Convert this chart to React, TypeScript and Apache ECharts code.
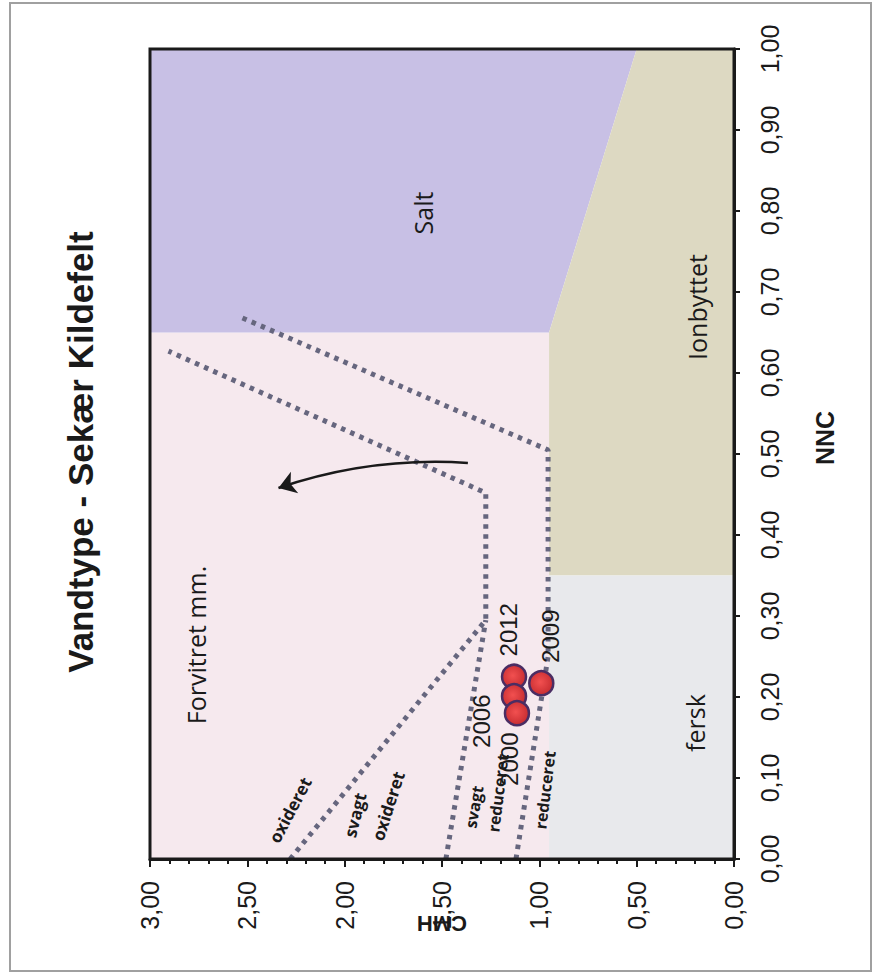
import React, { useEffect, useRef } from "react";
import * as echarts from "echarts";

// ---- texts ----
const TITLE = "Vandtype - Sekær Kildefelt";
const X_NAME = "NNC";
const Y_NAME = "CMH";

// ---- axis ranges ----
const NNC_MIN = 0;
const NNC_MAX = 1;
const NNC_STEP = 0.1;
const CMH_MIN = 0;
const CMH_MAX = 3;
const CMH_STEP = 0.5;

// ---- background regions (vertices as NNC / CMH) ----
const REGION_NAMES = ["Forvitret mm.", "Salt", "Ionbyttet", "fersk"];
const FORVITRET_NNC = [0, 0, 0.65, 0.65];
const FORVITRET_CMH = [0.95, 3, 3, 0.95];
const SALT_NNC = [0.65, 0.65, 1, 1];
const SALT_CMH = [3, 0.95, 0.5, 3];
const IONBYTTET_NNC = [0.35, 0.35, 0.65, 1, 1];
const IONBYTTET_CMH = [0, 0.95, 0.95, 0.5, 0];
const FERSK_NNC = [0, 0, 0.35, 0.35];
const FERSK_CMH = [0, 0.95, 0.95, 0];

// ---- dotted boundary lines ----
const OXIDERET_LINE_NNC = [0, 0.295, 0.452, 0.627];
const OXIDERET_LINE_CMH = [2.28, 1.275, 1.275, 2.905];
const SVAGT_LINE_NNC = [0, 0.295];
const SVAGT_LINE_CMH = [1.48, 1.275];
const REDUCERET_LINE_NNC = [0, 0.25, 0.505, 0.669];
const REDUCERET_LINE_CMH = [1.12, 0.955, 0.955, 2.535];

// ---- arrow ----
const ARROW_NNC = [0.489, 0.458];
const ARROW_CMH = [1.367, 2.34];

// ---- samples ----
const YEARS = ["2012", "2006", "2000", "2009"];
const SAMPLE_NNC = [0.225, 0.201, 0.18, 0.217];
const SAMPLE_CMH = [1.13, 1.13, 1.115, 0.99];

// ---- styles ----
const REGION_COLORS = ["#f6e9ee", "#c8c0e5", "#ddd9c2", "#e8e9ec"];
const YEAR_LABEL_OFFSETS = [
  [-6, -47],
  [-33, 25],
  [-7, 46],
  [9, -47],
];
const SANS = '"Liberation Sans", Arial, sans-serif';
const HUMAN = '"Open Sans", "Noto Sans", sans-serif';

const REGIONS_NNC = [FORVITRET_NNC, SALT_NNC, IONBYTTET_NNC, FERSK_NNC];
const REGIONS_CMH = [FORVITRET_CMH, SALT_CMH, IONBYTTET_CMH, FERSK_CMH];

const fmt = (v: number) => v.toFixed(2).replace(".", ",");
const pairs = (cmh: number[], nnc: number[]) => cmh.map((c, i) => [c, nnc[i]]);

const dotted = {
  color: "#66667e",
  width: 5,
  type: [4.5, 5.5],
  cap: "butt",
};

export default function App() {
  const ref = useRef<HTMLDivElement>(null);

  useEffect(() => {
    document.body.style.margin = "0";
    const chart = echarts.init(ref.current!, null, { renderer: "svg" });

    const option: any = {
      animation: false,
      backgroundColor: "#ffffff",
      grid: { left: 150, right: 145, top: 49, bottom: 121, containLabel: false },
      xAxis: {
        type: "value",
        min: CMH_MIN,
        max: CMH_MAX,
        interval: CMH_STEP,
        inverse: true,
        position: "bottom",
        name: Y_NAME,
        nameLocation: "middle",
        nameRotate: 180,
        nameGap: 50,
        nameMoveOverlap: false,
        nameTextStyle: {
          fontFamily: SANS,
          fontWeight: "bold",
          fontSize: 22,
          color: "#1a1a1a",
          backgroundColor: "#ffffff",
          padding: [3, 4, 3, 4],
        },
        axisLine: { show: true, onZero: false, lineStyle: { color: "#1a1a1a", width: 3 } },
        axisTick: { show: true, inside: false, length: 8, lineStyle: { color: "#1a1a1a", width: 2 } },
        minorTick: { show: true, splitNumber: 5, length: 5, lineStyle: { color: "#1a1a1a", width: 2 } },
        splitLine: { show: false },
        axisLabel: {
          rotate: 90,
          margin: 22,
          formatter: fmt,
          fontFamily: SANS,
          fontSize: 25,
          color: "#1a1a1a",
          showMinLabel: true,
          showMaxLabel: true,
        },
      },
      yAxis: {
        type: "value",
        min: NNC_MIN,
        max: NNC_MAX,
        interval: NNC_STEP,
        position: "right",
        name: X_NAME,
        nameLocation: "middle",
        nameRotate: 90,
        nameGap: 78,
        nameMoveOverlap: false,
        nameTextStyle: {
          fontFamily: SANS,
          fontWeight: "bold",
          fontSize: 25,
          color: "#1a1a1a",
          padding: [0, 0, 0, 32],
        },
        axisLine: { show: true, onZero: false, lineStyle: { color: "#1a1a1a", width: 3 } },
        axisTick: { show: true, inside: false, length: 6, lineStyle: { color: "#1a1a1a", width: 2 } },
        splitLine: { show: false },
        axisLabel: {
          rotate: 90,
          margin: 23,
          formatter: fmt,
          fontFamily: SANS,
          fontSize: 25,
          color: "#1a1a1a",
          showMinLabel: true,
          showMaxLabel: true,
        },
      },
      series: [
        {
          type: "custom",
          name: "regions",
          coordinateSystem: "cartesian2d",
          silent: true,
          clip: true,
          z: 1,
          data: REGION_NAMES.map((_, i) => [REGIONS_CMH[i][0], REGIONS_NNC[i][0]]),
          renderItem: (params: any, api: any) => {
            const i = params.dataIndex;
            const pts = REGIONS_NNC[i].map((n, k) => api.coord([REGIONS_CMH[i][k], n]));
            return {
              type: "polygon",
              shape: { points: pts },
              style: { fill: REGION_COLORS[i], stroke: "none" },
            };
          },
        },
        {
          type: "line",
          name: "oxideret",
          data: pairs(OXIDERET_LINE_CMH, OXIDERET_LINE_NNC),
          symbol: "none",
          silent: true,
          z: 3,
          lineStyle: dotted,
        },
        {
          type: "line",
          name: "svagt",
          data: pairs(SVAGT_LINE_CMH, SVAGT_LINE_NNC),
          symbol: "none",
          silent: true,
          z: 3,
          lineStyle: dotted,
        },
        {
          type: "line",
          name: "reduceret",
          data: pairs(REDUCERET_LINE_CMH, REDUCERET_LINE_NNC),
          symbol: "none",
          silent: true,
          z: 3,
          lineStyle: dotted,
        },
        {
          type: "lines",
          name: "arrow",
          coordinateSystem: "cartesian2d",
          silent: true,
          z: 4,
          symbol: ["none", "arrow"],
          symbolSize: 17,
          lineStyle: { color: "#1a1a1a", width: 2.5, curveness: -0.1, opacity: 1 },
          data: [
            {
              coords: [
                [ARROW_CMH[0], ARROW_NNC[0]],
                [ARROW_CMH[1], ARROW_NNC[1]],
              ],
            },
          ],
        },
        {
          type: "scatter",
          name: "prøver",
          z: 5,
          symbolSize: 24,
          itemStyle: {
            color: new echarts.graphic.RadialGradient(0.45, 0.45, 0.6, [
              { offset: 0, color: "#f25050" },
              { offset: 1, color: "#c42a2e" },
            ]),
            borderColor: "#4b2d63",
            borderWidth: 2.5,
            opacity: 1,
          },
          data: YEARS.map((y, i) => ({ name: y, value: [SAMPLE_CMH[i], SAMPLE_NNC[i]] })),
        },
      ],
    };

    chart.setOption(option);

    const rot = (deg: number) => (deg * Math.PI) / 180;
    const txt = (
      text: string,
      x: number,
      y: number,
      deg: number,
      size: number,
      family: string,
      weight: string = "normal",
      color: string = "#1a1a1a"
    ) => ({
      type: "text",
      x,
      y,
      rotation: rot(deg),
      z: 60,
      silent: true,
      style: {
        text,
        fontSize: size,
        fontFamily: family,
        fontWeight: weight,
        fill: color,
        align: "center",
        verticalAlign: "middle",
      },
    });

    const yearLabels = YEARS.map((y, i) => {
      const p = chart.convertToPixel({ gridIndex: 0 }, [SAMPLE_CMH[i], SAMPLE_NNC[i]]) as number[];
      return txt(y, p[0] + YEAR_LABEL_OFFSETS[i][0], p[1] + YEAR_LABEL_OFFSETS[i][1], 90, 24, SANS);
    });

    const elements: any[] = [
      {
        type: "rect",
        z: 0,
        silent: true,
        shape: { x: 10, y: 3, width: 861, height: 968 },
        style: { fill: "none", stroke: "#a0a0a0", lineWidth: 2 },
      },
      {
        type: "rect",
        z: 55,
        silent: true,
        shape: { x: 150, y: 49, width: 584, height: 810 },
        style: { fill: "none", stroke: "#1a1a1a", lineWidth: 3 },
      },
      txt(TITLE, 80, 452, 90, 35, SANS, "bold"),
      txt(REGION_NAMES[1], 423, 213, 90, 25, HUMAN),
      txt(REGION_NAMES[2], 697, 307, 90, 25, HUMAN),
      txt(REGION_NAMES[3], 695, 723, 90, 25, HUMAN),
      txt(REGION_NAMES[0], 196, 645, 90, 25, HUMAN),
      txt("oxideret", 290, 810, 62, 17, HUMAN, "bold"),
      txt("svagt", 355, 815, 76, 17, HUMAN, "bold"),
      txt("oxideret", 388, 806, 72, 17, HUMAN, "bold"),
      txt("svagt", 474, 807, 80, 16, HUMAN, "bold"),
      txt("reduceret", 498, 793, 83, 16, HUMAN, "bold"),
      txt("reduceret", 545, 790, 83, 16, HUMAN, "bold"),
      ...yearLabels,
    ];

    chart.setOption({ graphic: { elements } });

    return () => {
      chart.dispose();
    };
  }, []);

  return <div ref={ref} style={{ width: 879, height: 980 }} />;
}
